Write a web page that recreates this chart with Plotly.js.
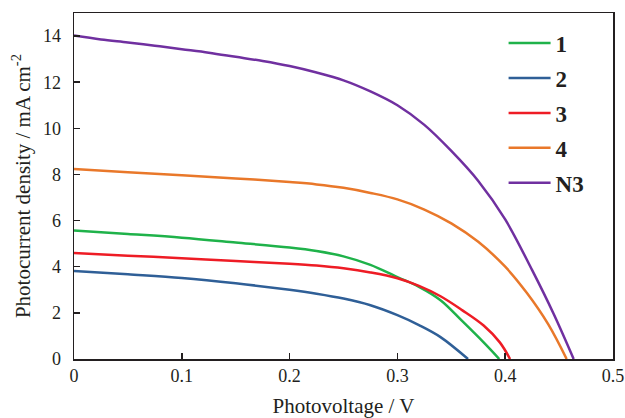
<!DOCTYPE html>
<html>
<head>
<meta charset="utf-8">
<script src="https://cdn.plot.ly/plotly-3.0.1.min.js"></script>
<style>html,body{margin:0;padding:0;background:#fff;}#chart{width:625px;height:418px;}</style>
</head>
<body>
<div id="chart"></div>
<script>
// Series names
const seriesNames = ["1", "2", "3", "4", "N3"];

// Photovoltage (V) / photocurrent density (mA cm-2) per series
const x1 = [0, 0.05, 0.1, 0.15, 0.2, 0.225, 0.25, 0.275, 0.3, 0.32, 0.34, 0.36, 0.38, 0.3945];
const y1 = [5.57, 5.42, 5.26, 5.05, 4.83, 4.68, 4.45, 4.08, 3.55, 3.13, 2.55, 1.65, 0.72, 0];

const x2 = [0, 0.05, 0.1, 0.15, 0.2, 0.225, 0.25, 0.275, 0.3, 0.32, 0.34, 0.3655];
const y2 = [3.82, 3.67, 3.51, 3.28, 3.0, 2.83, 2.62, 2.33, 1.90, 1.47, 0.95, 0];

const x3 = [0, 0.05, 0.1, 0.15, 0.2, 0.225, 0.25, 0.275, 0.3, 0.32, 0.34, 0.36, 0.38, 0.395, 0.4045];
const y3 = [4.59, 4.48, 4.37, 4.25, 4.13, 4.05, 3.93, 3.75, 3.50, 3.17, 2.72, 2.12, 1.45, 0.72, 0];

const x4 = [0, 0.05, 0.1, 0.15, 0.2, 0.225, 0.25, 0.275, 0.3, 0.325, 0.35, 0.375, 0.4, 0.42, 0.44, 0.457];
const y4 = [8.24, 8.1, 7.97, 7.83, 7.67, 7.57, 7.42, 7.2, 6.92, 6.48, 5.88, 5.08, 4.0, 2.87, 1.5, 0];

const xN3 = [0, 0.025, 0.05, 0.075, 0.1, 0.125, 0.15, 0.175, 0.2, 0.225, 0.25, 0.275, 0.3, 0.325, 0.35, 0.375, 0.4, 0.425, 0.445, 0.4635];
const yN3 = [14.02, 13.85, 13.72, 13.58, 13.43, 13.28, 13.1, 12.92, 12.7, 12.42, 12.08, 11.6, 11.0, 10.15, 9.02, 7.72, 6.05, 3.85, 1.95, 0];

const xs = [x1, x2, x3, x4, xN3];
const ys = [y1, y2, y3, y4, yN3];
const colors = ["#1fb24a", "#2f5f97", "#ee1c25", "#e9782a", "#7030a0"];

const traces = seriesNames.map((n, i) => ({
  type: "scatter", mode: "lines", name: n, legendgroup: "g" + i,
  x: xs[i], y: ys[i],
  line: {color: colors[i], width: 2.5, shape: "spline", smoothing: 1}
}));

const font = "Liberation Serif";
const layout = {
  width: 625, height: 418,
  margin: {l: 74, r: 12, t: 13, b: 59, pad: 0},
  paper_bgcolor: "#fff", plot_bgcolor: "#fff",
  font: {family: font, size: 18, color: "#231f20"},
  showlegend: true,
  legend: {
    x: 0.797, xanchor: "left", y: 0.975, yanchor: "top",
    bgcolor: "rgba(0,0,0,0)", borderwidth: 0,
    font: {family: font, size: 23, color: "#231f20", weight: "bold"},
    tracegroupgap: 2, itemwidth: 42
  },
  xaxis: {
    range: [0, 0.5], dtick: 0.1, tick0: 0,
    ticks: "inside", ticklen: 6, tickwidth: 1.5, tickcolor: "#231f20",
    showline: true, linecolor: "#231f20", linewidth: 1.5, mirror: true,
    showgrid: false, zeroline: false,
    tickfont: {family: font, size: 18, color: "#231f20"},
    title: {text: "Photovoltage / V", font: {family: font, size: 21, color: "#231f20"}}
  },
  yaxis: {
    range: [0, 15], dtick: 2, tick0: 0,
    ticks: "inside", ticklen: 6, tickwidth: 1.5, tickcolor: "#231f20",
    showline: true, linecolor: "#231f20", linewidth: 1.5, mirror: true,
    showgrid: false, zeroline: false,
    tickfont: {family: font, size: 18, color: "#231f20"},
    ticklabelstandoff: 8,
    title: {text: "Photocurrent density / mA cm<sup>-2</sup>", standoff: 6, font: {family: font, size: 21, color: "#231f20"}}
  }
};

Plotly.newPlot("chart", traces, layout, {staticPlot: true, displayModeBar: false});
</script>
</body>
</html>
